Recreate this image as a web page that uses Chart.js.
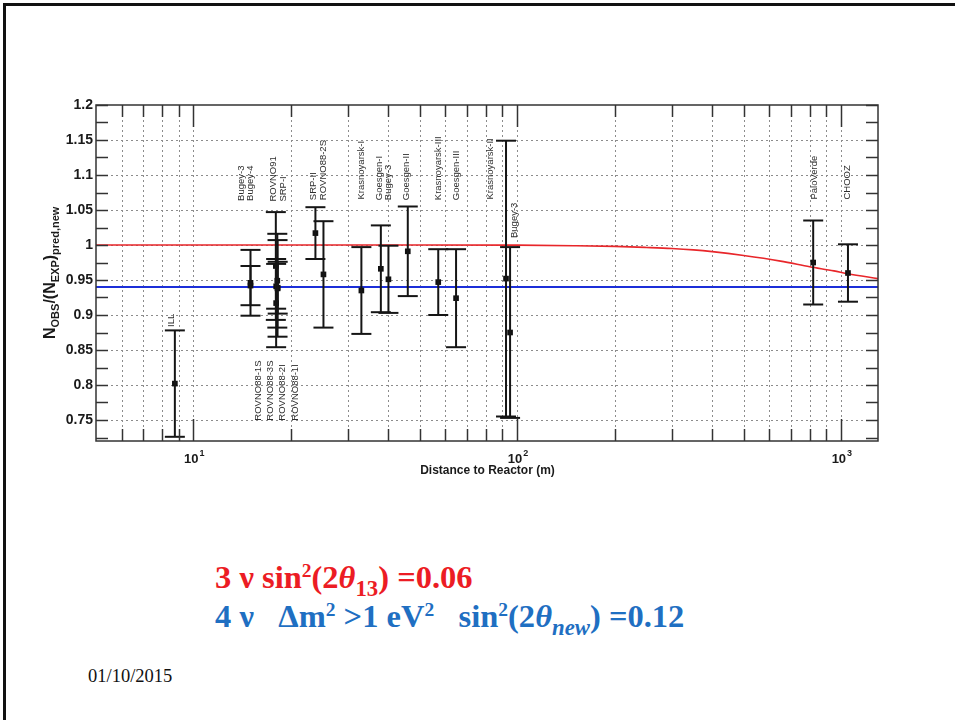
<!DOCTYPE html>
<html>
<head>
<meta charset="utf-8">
<script src="https://cdn.jsdelivr.net/npm/chart.js@4.4.1/dist/chart.umd.min.js"></script>
<style>
  html, body { margin: 0; padding: 0; background: #fff; width: 955px; height: 720px; overflow: hidden; }
  #frame { position: absolute; left: 3px; top: 3px; width: 970px; height: 740px;
           border-left: 3px solid #111; border-top: 3px solid #111; }
  #plot { position: absolute; left: 0; top: 0; }
  .eq { position: absolute; left: 215px; font-family: "Liberation Serif", "Times New Roman", serif;
        font-weight: bold; font-size: 32.5px; white-space: nowrap; line-height: 36px; }
  .eq sup { font-size: 0.6em; vertical-align: 0.55em; line-height: 0; }
  .eq sub { font-size: 0.7em; vertical-align: -0.35em; line-height: 0; }
  #eq3 { top: 559px; color: #ec1c24; }
  #eq4 { top: 598px; color: #1f6fc2; }
  #date { position: absolute; left: 88px; top: 666px; font-family: "Liberation Serif", "Times New Roman", serif;
          font-size: 18.5px; color: #111; }
</style>
</head>
<body>
<div id="frame"></div>
<canvas id="plot" width="955" height="500"></canvas>
<div class="eq" id="eq3">3 ν sin<sup>2</sup>(2<i>θ</i><sub>13</sub>) =0.06</div>
<div class="eq" id="eq4">4 ν &nbsp;&nbsp;Δm<sup>2</sup> &gt;1 eV<sup>2</sup> &nbsp;&nbsp;sin<sup>2</sup>(2<i>θ</i><sub><i>new</i></sub>) =0.12</div>
<div id="date">01/10/2015</div>
<script>
// Short-baseline reactor experiments: observed / predicted event ratio
const experiments = ['ILL', 'Bugey-4', 'Bugey-3', 'ROVNO91', 'SRP-I', 'ROVNO88-1I', 'ROVNO88-2I',
  'ROVNO88-1S', 'ROVNO88-3S', 'SRP-II', 'ROVNO88-2S', 'Krasnoyarsk-I', 'Goesgen-I', 'Bugey-3',
  'Goesgen-II', 'Krasnoyarsk-III', 'Goesgen-III', 'Krasnoyarsk-II', 'Bugey-3', 'PaloVerde', 'CHOOZ'];
const distances = [8.76, 15.0, 15.0, 18.0, 18.2, 18.0, 17.96, 18.15, 18.18, 23.8, 25.2, 33.0, 37.9, 40.0,
  45.9, 57.0, 64.7, 92.3, 95.0, 820, 1050];
const ratios = [0.802, 0.942, 0.946, 0.941, 0.939, 0.917, 0.970, 0.949, 0.938, 1.017, 0.958, 0.935, 0.966,
  0.951, 0.991, 0.947, 0.924, 0.952, 0.875, 0.975, 0.960];
const errors = [0.076, 0.028, 0.047, 0.032, 0.037, 0.063, 0.077, 0.067, 0.069, 0.037, 0.076, 0.062, 0.062,
  0.048, 0.064, 0.047, 0.070, 0.197, 0.122, 0.060, 0.041];

// 3-flavour expectation, sin^2(2θ13) = 0.06
const curve3nuL = [5, 50, 100, 150, 200, 250, 300, 350, 400, 500, 650, 800, 950, 1050, 1300];
const curve3nuR = [1.0, 1.0, 0.9998, 0.999, 0.998, 0.9965, 0.995, 0.993, 0.9905, 0.985, 0.977, 0.969, 0.963, 0.959, 0.952];

// 4-flavour expectation, Δm² > 1 eV², sin^2(2θnew) = 0.12
const curve4nuL = [5, 1300];
const curve4nuR = [0.94, 0.94];

// Axis ranges, grid and tick labels
const xRange = [5, 1300];
const yRange = [0.72, 1.2];
const xGridValues = [6, 7, 8, 9, 10, 20, 30, 40, 50, 60, 70, 80, 90, 100, 200, 300, 400, 500, 600, 700, 800, 900, 1000];
const xMajorValues = [10, 100, 1000];
const xMajorExponents = ['1', '2', '3'];
const yGridValues = [0.75, 0.8, 0.85, 0.9, 0.95, 1.0, 1.05, 1.1, 1.15];
const yTickValues = [0.75, 0.8, 0.85, 0.9, 0.95, 1.0, 1.05, 1.1, 1.15, 1.2];
const yTickLabels = ['0.75', '0.8', '0.85', '0.9', '0.95', '1', '1.05', '1.1', '1.15', '1.2'];
const yMinorValues = [0.725, 0.775, 0.825, 0.875, 0.925, 0.975, 1.025, 1.075, 1.125, 1.175];

// Experiment name tags (rotated text): anchor distance, anchor ratio where the text starts
const tags = [
  { text: 'ILL', x: 8.56, y: 0.883 },
  { text: 'Bugey-3', x: 14.05, y: 1.063 },
  { text: 'Bugey-4', x: 14.97, y: 1.063 },
  { text: 'ROVNO91', x: 17.6, y: 1.062 },
  { text: 'SRP-I', x: 18.9, y: 1.062 },
  { text: 'SRP-II', x: 23.4, y: 1.064 },
  { text: 'ROVNO88-2S', x: 25.1, y: 1.064 },
  { text: 'Krasnoyarsk-I', x: 32.9, y: 1.065 },
  { text: 'Goesgen-I', x: 37.4, y: 1.064 },
  { text: 'Bugey-3', x: 40.1, y: 1.064 },
  { text: 'Goesgen-II', x: 45.5, y: 1.064 },
  { text: 'Krasnoyarsk-III', x: 57.1, y: 1.064 },
  { text: 'Goesgen-III', x: 64.9, y: 1.064 },
  { text: 'Krasnoyarsk-II', x: 82.6, y: 1.065 },
  { text: 'Bugey-3', x: 97.9, y: 1.010 },
  { text: 'PaloVerde', x: 826, y: 1.065 },
  { text: 'CHOOZ', x: 1042, y: 1.065 },
  { text: 'ROVNO88-1S', x: 15.85, y: 0.749 },
  { text: 'ROVNO88-3S', x: 17.26, y: 0.749 },
  { text: 'ROVNO88-2I', x: 18.8, y: 0.749 },
  { text: 'ROVNO88-1I', x: 20.7, y: 0.749 }
];

const SANS = '"Liberation Sans", Arial, Helvetica, sans-serif';

function seg(ctx, x1, y1, x2, y2) {
  ctx.beginPath(); ctx.moveTo(x1, y1); ctx.lineTo(x2, y2); ctx.stroke();
}

// Draws a run of text pieces with sub/superscripts along the current x direction
function drawRich(ctx, pieces, x, y) {
  let cx = x;
  for (const p of pieces) {
    ctx.font = 'bold ' + p.size + 'px ' + SANS;
    ctx.fillText(p.t, cx, y + (p.dy || 0));
    cx += ctx.measureText(p.t).width;
  }
}

const rootStyle = {
  id: 'rootStyle',
  beforeDatasetsDraw(chart) {
    const { ctx, chartArea: a, scales: { x, y } } = chart;
    ctx.save();
    ctx.strokeStyle = '#8c8c8c';
    ctx.lineWidth = 1;
    ctx.setLineDash([2, 3]);
    for (const v of xGridValues) {
      const px = Math.round(x.getPixelForValue(v)) + 0.5;
      seg(ctx, px, a.top, px, a.bottom);
    }
    for (const v of yGridValues) {
      const py = Math.round(y.getPixelForValue(v)) + 0.5;
      seg(ctx, a.left, py, a.right, py);
    }
    ctx.restore();
  },
  afterDatasetsDraw(chart) {
    const { ctx, chartArea: a, scales: { x, y } } = chart;
    ctx.save();
    // error bars
    ctx.strokeStyle = '#151515';
    ctx.lineWidth = 2;
    const cap = 10;
    for (let i = 0; i < distances.length; i++) {
      const px = x.getPixelForValue(distances[i]);
      const top = y.getPixelForValue(ratios[i] + errors[i]);
      const bot = y.getPixelForValue(ratios[i] - errors[i]);
      seg(ctx, px, Math.max(top, a.top), px, Math.min(bot, a.bottom));
      if (top >= a.top) seg(ctx, px - cap, top, px + cap, top);
      if (bot <= a.bottom) seg(ctx, px - cap, bot, px + cap, bot);
    }
    // frame
    ctx.strokeStyle = '#333';
    ctx.lineWidth = 1.5;
    ctx.strokeRect(a.left, a.top, a.right - a.left, a.bottom - a.top);
    // x ticks, bottom and top, pointing inward
    for (const v of xGridValues) {
      const px = Math.round(x.getPixelForValue(v)) + 0.5;
      const len = xMajorValues.includes(v) ? 22 : 12;
      seg(ctx, px, a.bottom, px, a.bottom - len);
      seg(ctx, px, a.top, px, a.top + len);
    }
    // y ticks, left and right
    for (const v of yTickValues.concat(yMinorValues)) {
      const py = Math.round(y.getPixelForValue(v)) + 0.5;
      seg(ctx, a.left, py, a.left + 12, py);
      seg(ctx, a.right, py, a.right - 12, py);
    }
    ctx.restore();
  },
  afterDraw(chart) {
    const { ctx, chartArea: a, scales: { x, y } } = chart;
    ctx.save();
    ctx.fillStyle = '#1a1a1a';
    // y tick labels
    ctx.font = 'bold 14px ' + SANS;
    ctx.textAlign = 'right';
    ctx.textBaseline = 'middle';
    yTickValues.forEach((v, i) => ctx.fillText(yTickLabels[i], a.left - 3, y.getPixelForValue(v)));
    // x decade labels 10^n
    xMajorValues.forEach((v, i) => {
      const px = x.getPixelForValue(v);
      ctx.font = 'bold 13px ' + SANS;
      ctx.textAlign = 'right';
      ctx.textBaseline = 'alphabetic';
      ctx.fillText('10', px + 5, a.bottom + 22);
      ctx.font = 'bold 9px ' + SANS;
      ctx.textAlign = 'left';
      ctx.fillText(xMajorExponents[i], px + 6, a.bottom + 15);
    });
    // x title
    ctx.font = 'bold 12px ' + SANS;
    ctx.textAlign = 'center';
    ctx.textBaseline = 'middle';
    ctx.fillText('Distance to Reactor (m)', (a.left + a.right) / 2 + 0.5, a.bottom + 30);
    // y title
    ctx.translate(55, 339);
    ctx.rotate(-Math.PI / 2);
    ctx.textAlign = 'left';
    ctx.textBaseline = 'alphabetic';
    drawRich(ctx, [
      { t: 'N', size: 16 }, { t: 'OBS', size: 11, dy: 4 }, { t: '/(N', size: 16 },
      { t: 'EXP', size: 11, dy: 4 }, { t: ')', size: 16 }, { t: 'pred,new', size: 11, dy: 4 }
    ], 0, 0);
    ctx.restore();

    // experiment tags
    ctx.save();
    ctx.fillStyle = '#2e2e2e';
    ctx.font = '9.5px ' + SANS;
    ctx.textAlign = 'left';
    ctx.textBaseline = 'middle';
    for (const t of tags) {
      ctx.save();
      ctx.translate(x.getPixelForValue(t.x), y.getPixelForValue(t.y));
      ctx.rotate(-Math.PI / 2);
      ctx.fillText(t.text, 0, 0);
      ctx.restore();
    }
    ctx.restore();
  }
};

const pts = (xs, ys) => xs.map((v, i) => ({ x: v, y: ys[i] }));

new Chart(document.getElementById('plot'), {
  type: 'scatter',
  data: {
    datasets: [
      {
        label: 'Experiments',
        data: pts(distances, ratios),
        pointStyle: 'rect',
        pointRadius: 4,
        backgroundColor: '#111',
        borderWidth: 0
      },
      {
        label: '3 nu',
        data: pts(curve3nuL, curve3nuR),
        showLine: true,
        borderColor: '#e8262a',
        borderWidth: 1.6,
        pointRadius: 0,
        cubicInterpolationMode: 'monotone'
      },
      {
        label: '4 nu',
        data: pts(curve4nuL, curve4nuR),
        showLine: true,
        borderColor: '#1c2fd8',
        borderWidth: 2,
        pointRadius: 0
      }
    ]
  },
  options: {
    responsive: false,
    animation: false,
    devicePixelRatio: 1,
    events: [],
    layout: { padding: { left: 96, top: 105, right: 77, bottom: 59 } },
    plugins: { legend: { display: false }, tooltip: { enabled: false } },
    scales: {
      x: { type: 'logarithmic', min: xRange[0], max: xRange[1], display: false },
      y: { type: 'linear', min: yRange[0], max: yRange[1], display: false }
    }
  },
  plugins: [rootStyle]
});
</script>
</body>
</html>
